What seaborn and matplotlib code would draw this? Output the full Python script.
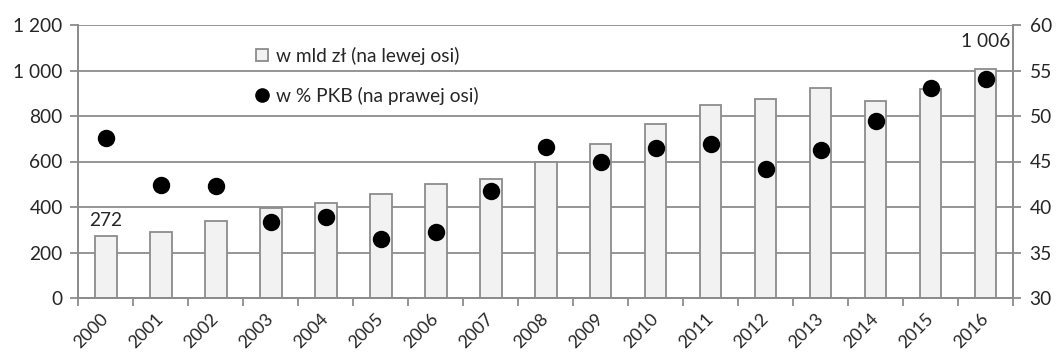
import numpy as np
import pandas as pd
import matplotlib
matplotlib.use("Agg")
import matplotlib.pyplot as plt
from matplotlib.ticker import FuncFormatter, MultipleLocator
from matplotlib.lines import Line2D
import seaborn as sns

# Data
years = [str(y) for y in range(2000, 2017)]
debt_bn_pln = [272, 291, 338, 394, 419, 458, 501, 524, 596, 678, 766, 847, 876, 924, 865, 920, 1006]
debt_pct_gdp = [47.6, 42.4, 42.3, 38.4, 38.9, 36.5, 37.3, 41.8, 46.6, 45.0, 46.5, 46.9, 44.2, 46.3, 49.4, 53.1, 54.1]
first_label_year = "2000"
last_label_year = "2016"
legend_labels = ["w mld zł (na lewej osi)", "w % PKB (na prawej osi)"]

df = pd.DataFrame({"year": years, "bn": debt_bn_pln, "pct": debt_pct_gdp})

sns.set_style("white")
plt.rcParams["font.family"] = ["Lato", "DejaVu Sans"]
FS = 13.8
plt.rcParams["font.size"] = FS

GRID = "#8c8c8c"
BAR_FILL = "#f2f2f2"


def fmt_space(v):
    return f"{int(v):,}".replace(",", " ")


fig = plt.figure(figsize=(10.56, 3.56), dpi=100)
ax = fig.add_axes([78 / 1056, 58 / 356, 935 / 1056, 273 / 356])

sns.barplot(data=df, x="year", y="bn", ax=ax, width=0.4, color=BAR_FILL,
            saturation=1, edgecolor=GRID, linewidth=1.3, zorder=3)

ax.set_ylim(0, 1200)
ax.yaxis.set_major_locator(MultipleLocator(200))
ax.yaxis.set_major_formatter(FuncFormatter(lambda v, p: fmt_space(v)))
ax.set_axisbelow(True)
ax.yaxis.grid(True, color=GRID, linewidth=1.3)
ax.set_xlabel("")
ax.set_ylabel("")

# value labels on the first and last bar
bars = ax.containers[0]
ax.bar_label(bars, labels=[fmt_space(v) if y == first_label_year else ""
                           for y, v in zip(years, debt_bn_pln)], padding=5, fontsize=FS)
ax.bar_label(bars, labels=[fmt_space(v) if y == last_label_year else ""
                           for y, v in zip(years, debt_bn_pln)], padding=14, fontsize=FS)

# secondary axis: share of GDP
ax2 = ax.twinx()
sns.pointplot(data=df, x="year", y="pct", ax=ax2, color="black", linestyle="none",
              marker="o", markersize=10.5, errorbar=None)
ax2.set_ylim(30, 60)
ax2.yaxis.set_major_locator(MultipleLocator(5))
ax2.set_ylabel("")
ax2.set_xlabel("")
ax2.grid(False)

n = len(years)
ax.set_xlim(-0.5, n - 0.5)
ax2.set_xlim(-0.5, n - 0.5)

# category ticks at boundaries, labels at centres
ax.set_xticks(np.arange(-0.5, n, 1.0))
ax.set_xticklabels([])
ax.set_xticks(np.arange(n), minor=True)
ax.set_xticklabels(years, minor=True, rotation=45, ha="right", va="center",
                   rotation_mode="anchor", fontsize=12.8)
ax.tick_params(axis="x", which="major", direction="out", length=6, width=1.3,
               color=GRID, bottom=True)
ax.tick_params(axis="x", which="minor", length=0, pad=13)
ax.tick_params(axis="y", direction="out", length=6, width=1.3, color=GRID, left=True, pad=5)
ax2.tick_params(axis="y", direction="out", length=6, width=1.3, color=GRID, right=True, pad=6)
ax2.tick_params(axis="x", bottom=False, labelbottom=False)

for a in (ax, ax2):
    for side in ("left", "right", "bottom"):
        a.spines[side].set_visible(True)
        a.spines[side].set_color(GRID)
        a.spines[side].set_linewidth(1.3)
    a.spines["top"].set_visible(False)

# legend
handles = [
    Line2D([], [], linestyle="none", marker="s", markersize=9,
           markerfacecolor=BAR_FILL, markeredgecolor=GRID, markeredgewidth=1.3),
    Line2D([], [], linestyle="none", marker="o", markersize=9.5,
           markerfacecolor="black", markeredgecolor="black"),
]
ax2.legend(handles, legend_labels, frameon=False, loc="upper left",
           bbox_to_anchor=(245 / 1056, 1 - 37 / 356), bbox_transform=fig.transFigure,
           labelspacing=1.15, handlelength=0.8, handletextpad=0.3, borderpad=0,
           fontsize=FS)

fig.savefig("out.png", dpi=100)
